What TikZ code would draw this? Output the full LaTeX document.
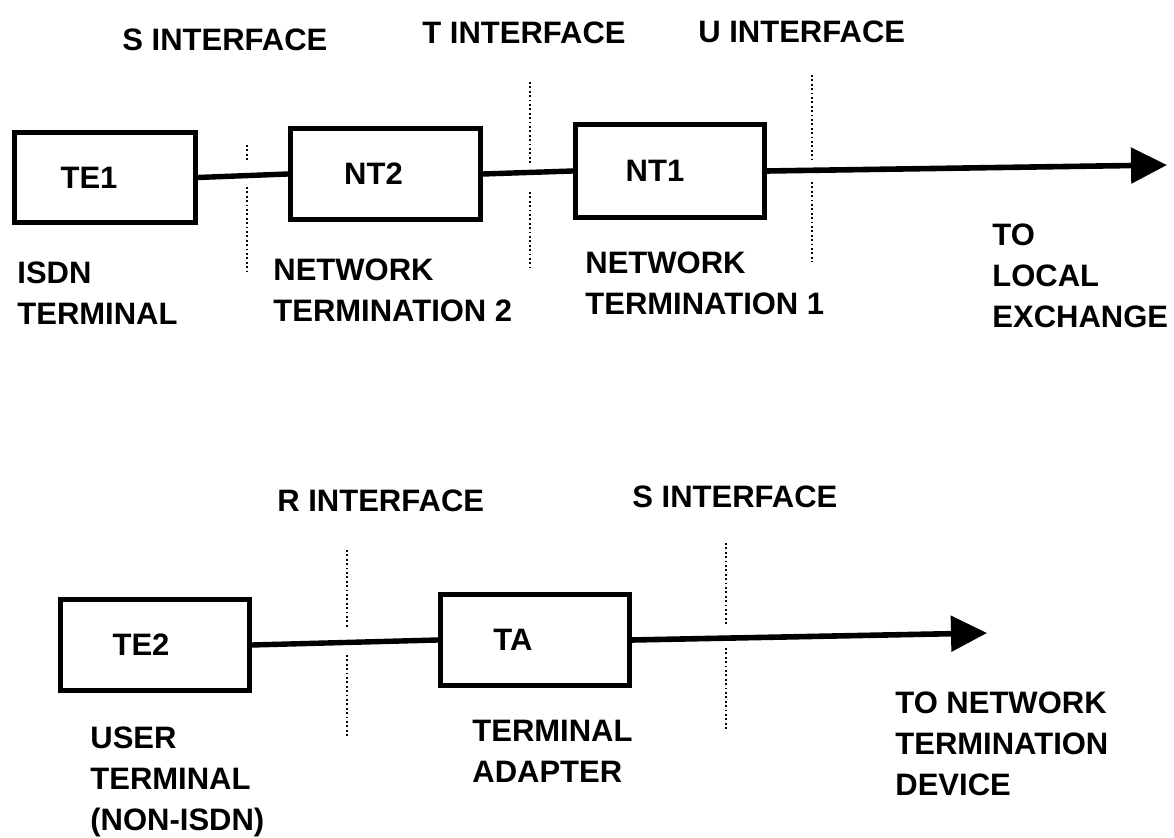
\documentclass[tikz,border=0pt]{standalone}
\usepackage{fontspec}
\setmainfont{Liberation Sans}
\usetikzlibrary{arrows.meta}
\begin{document}
\begin{tikzpicture}[x=0.5pt,y=-0.5pt,
  every node/.style={font=\bfseries\fontsize{15.5}{20.5}\selectfont},
  unit/.style={draw,line width=2.5pt,rectangle,inner sep=0pt},
  lbl/.style={anchor=north west,inner sep=0pt,align=left},
  conn/.style={line width=2.7pt},
  arr/.style={line width=2.8pt,-{Triangle[length=18pt,width=17.5pt]}},
  iface/.style={line width=0.9pt,dash pattern=on 0.9pt off 1.3pt}]
\useasboundingbox (0,0) rectangle (1174,838);

% top row boxes
\node[unit,minimum width=90.5pt,minimum height=45pt] (te1) at (105,177.5) {TE1\hspace*{16pt}};
\node[unit,minimum width=95pt,minimum height=45.5pt] (nt2) at (385.5,174) {NT2\hspace*{12pt}};
\node[unit,minimum width=94.5pt,minimum height=46.5pt] (nt1) at (670,171) {NT1\hspace*{15pt}};
\coordinate (lx) at (1167,165);

\draw[conn] (te1.east) -- (nt2.west);
\draw[conn] (nt2.east) -- (nt1.west);
\draw[arr] (nt1.east) -- (lx);

% top interface marks
\draw[iface] (247,145) -- (247,162);
\draw[iface] (247,187) -- (247,272);
\draw[iface] (530,82) -- (530,163);
\draw[iface] (530,192) -- (530,268);
\draw[iface] (812,75) -- (812,160);
\draw[iface] (812,182) -- (812,262);

% top labels
\node[lbl] (sif) at (122,28) {S INTERFACE};
\node[lbl] (tif) at (422,21) {T INTERFACE};
\node[lbl] (uif) at (698,20) {U INTERFACE};
\node[lbl] (te1l) at (17,261) {ISDN\\TERMINAL};
\node[lbl] (nt2l) at (273,258) {NETWORK\\TERMINATION 2};
\node[lbl] (nt1l) at (585,251) {NETWORK\\TERMINATION 1};
\node[lbl] (lexl) at (992,223) {TO\\LOCAL\\EXCHANGE};

% bottom row boxes
\node[unit,minimum width=94.5pt,minimum height=45.5pt] (te2) at (155,645) {TE2\hspace*{14pt}};
\node[unit,minimum width=94.5pt,minimum height=45.5pt] (ta) at (535,640) {TA\hspace*{22pt}};
\coordinate (nx) at (987,633);

\draw[conn] (te2.east) -- (ta.west);
\draw[arr] (ta.east) -- (nx);

% bottom interface marks
\draw[iface] (347,550) -- (347,627);
\draw[iface] (347,655) -- (347,737);
\draw[iface] (726,543) -- (726,625);
\draw[iface] (726,648) -- (726,730);

% bottom labels
\node[lbl] (rif) at (277,489) {R INTERFACE};
\node[lbl] (sif2) at (632,485) {S INTERFACE};
\node[lbl] (te2l) at (90,726) {USER\\TERMINAL\\(NON-ISDN)};
\node[lbl] (tal) at (472,720) {TERMINAL\\ADAPTER};
\node[lbl] (ntdl) at (895,691) {TO NETWORK\\TERMINATION\\DEVICE};
\end{tikzpicture}
\end{document}
